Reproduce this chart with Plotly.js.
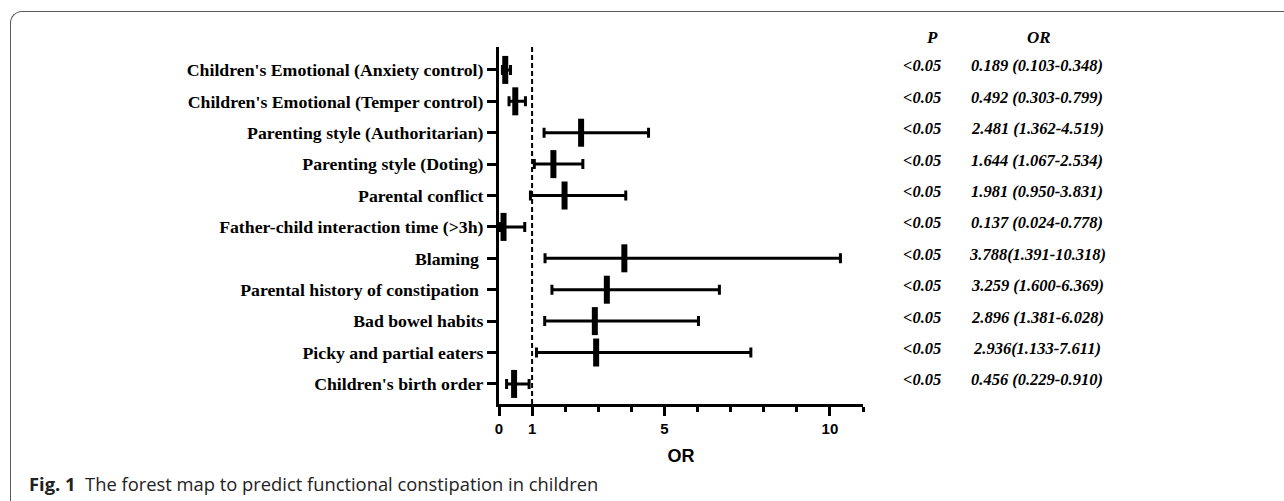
<!DOCTYPE html>
<html>
<head>
<meta charset="utf-8">
<script src="https://cdn.plot.ly/plotly-3.0.1.min.js"></script>
<style>
  html, body { margin: 0; padding: 0; background: #fff; }
  #wrap { position: relative; width: 1284px; height: 501px; overflow: hidden; }
  #frame { position: absolute; left: 10px; top: 11px; width: 1400px; height: 600px;
           border-left: 1.5px solid #5a5a5a; border-top: 1.5px solid #5a5a5a;
           border-top-left-radius: 12px; pointer-events: none; z-index: 2; }
  #chart { position: absolute; left: 0; top: 0; width: 1284px; height: 501px; }
</style>
</head>
<body>
<div id="wrap">
  <div id="chart"></div>
  <div id="frame"></div>
</div>
<script>
const categories = [
  "Children's Emotional (Anxiety control)",
  "Children's Emotional (Temper control)",
  "Parenting style (Authoritarian)",
  "Parenting style (Doting)",
  "Parental conflict",
  "Father-child interaction time (>3h)",
  "Blaming\u00a0",
  "Parental history of constipation\u00a0",
  "Bad bowel habits",
  "Picky and partial eaters",
  "Children's birth order"
];
const orValues = [0.189, 0.492, 2.481, 1.644, 1.981, 0.137, 3.788, 3.259, 2.896, 2.936, 0.456];
const ciLower  = [0.103, 0.303, 1.362, 1.067, 0.950, 0.024, 1.391, 1.600, 1.381, 1.133, 0.229];
const ciUpper  = [0.348, 0.799, 4.519, 2.534, 3.831, 0.778, 10.318, 6.66, 6.028, 7.611, 0.910];
const pLabels  = ["<0.05","<0.05","<0.05","<0.05","<0.05","<0.05","<0.05","<0.05","<0.05","<0.05","<0.05"];
const orLabels = [
  "0.189 (0.103-0.348)",
  "0.492 (0.303-0.799)",
  "2.481 (1.362-4.519)",
  "1.644 (1.067-2.534)",
  "1.981 (0.950-3.831)",
  "0.137 (0.024-0.778)",
  "3.788(1.391-10.318)",
  "3.259 (1.600-6.369)",
  "2.896 (1.381-6.028)",
  "2.936(1.133-7.611)",
  "0.456 (0.229-0.910)"
];
const majorTicks = [0, 1, 5, 10];
const minorTicks = [2, 3, 4, 6, 7, 8, 9, 11];
const refLine = 1;

const W = 1284, H = 501;
const L = 499, R = 863, T = 47, B = 404;
const px2paperX = p => (p - L) / (R - L);
const px2paperY = p => (B - p) / (B - T);

const trace = {
  type: 'scatter',
  mode: 'markers',
  x: orValues,
  y: categories,
  marker: { symbol: 'line-ns', size: 20, color: 'black', line: { color: 'black', width: 6 } },
  error_x: {
    type: 'data', symmetric: false,
    array: orValues.map((v, i) => ciUpper[i] - v),
    arrayminus: orValues.map((v, i) => v - ciLower[i]),
    color: 'black', thickness: 3, width: 5
  },
  cliponaxis: false,
  hoverinfo: 'skip'
};

const serifItalic = { family: 'Liberation Serif', size: 16.5, color: 'black', weight: 'bold', style: 'italic' };
const annotations = [];
annotations.push({ xref: 'paper', yref: 'paper', x: px2paperX(932), y: px2paperY(37), text: 'P',
  showarrow: false, xanchor: 'center', yanchor: 'middle', font: Object.assign({}, serifItalic, {size: 17}) });
annotations.push({ xref: 'paper', yref: 'paper', x: px2paperX(1039), y: px2paperY(37), text: 'OR',
  showarrow: false, xanchor: 'center', yanchor: 'middle', font: Object.assign({}, serifItalic, {size: 17}) });
categories.forEach((c, i) => {
  annotations.push({ xref: 'paper', yref: 'y', x: px2paperX(922), y: i, text: pLabels[i].replace('<', '&lt;'),
    showarrow: false, xanchor: 'center', yanchor: 'middle', yshift: 4, font: serifItalic });
  annotations.push({ xref: 'paper', yref: 'y', x: px2paperX(1037), y: i, text: orLabels[i],
    showarrow: false, xanchor: 'center', yanchor: 'middle', yshift: 4, font: serifItalic });
});
annotations.push({ xref: 'paper', yref: 'paper', x: px2paperX(27), y: px2paperY(483),
  text: '<b>Fig. 1</b>\u00a0\u00a0The forest map to predict functional constipation in children',
  showarrow: false, xanchor: 'left', yanchor: 'middle', align: 'left',
  font: { family: 'Open Sans', size: 18.35, color: '#222' } });

const layout = {
  width: W, height: H,
  margin: { l: L, r: W - R, t: T, b: H - B, pad: 0 },
  paper_bgcolor: 'white', plot_bgcolor: 'white',
  showlegend: false,
  xaxis: {
    range: [0, 11], showgrid: false, zeroline: false,
    showline: true, linewidth: 3, linecolor: 'black',
    tickmode: 'array', tickvals: majorTicks, ticktext: majorTicks.map(String),
    ticks: 'outside', ticklen: 9, tickwidth: 3, tickcolor: 'black',
    tickfont: { family: 'Liberation Sans', size: 15, color: 'black', weight: 'bold' },
    minor: { tickmode: 'array', tickvals: minorTicks, ticks: 'outside', ticklen: 5, tickwidth: 3, tickcolor: 'black' },
    title: { text: 'OR', font: { family: 'Liberation Sans', size: 18, color: 'black', weight: 'bold' }, standoff: 14 },
    fixedrange: true
  },
  yaxis: {
    type: 'category', categoryorder: 'array', categoryarray: categories,
    range: [10.64, -0.73], showgrid: false, zeroline: false,
    showline: true, linewidth: 3, linecolor: 'black',
    ticks: 'outside', ticklen: 9, tickwidth: 3, tickcolor: 'black',
    tickfont: { family: 'Liberation Serif', size: 17.75, color: 'black', weight: 'bold' },
    fixedrange: true
  },
  shapes: [{
    type: 'line', xref: 'x', yref: 'paper', x0: refLine, x1: refLine, y0: 0, y1: 1,
    line: { color: 'black', width: 2, dash: '5px,3px' }
  }],
  annotations: annotations
};

Plotly.newPlot('chart', [trace], layout, { displayModeBar: false, staticPlot: true });
</script>
</body>
</html>
